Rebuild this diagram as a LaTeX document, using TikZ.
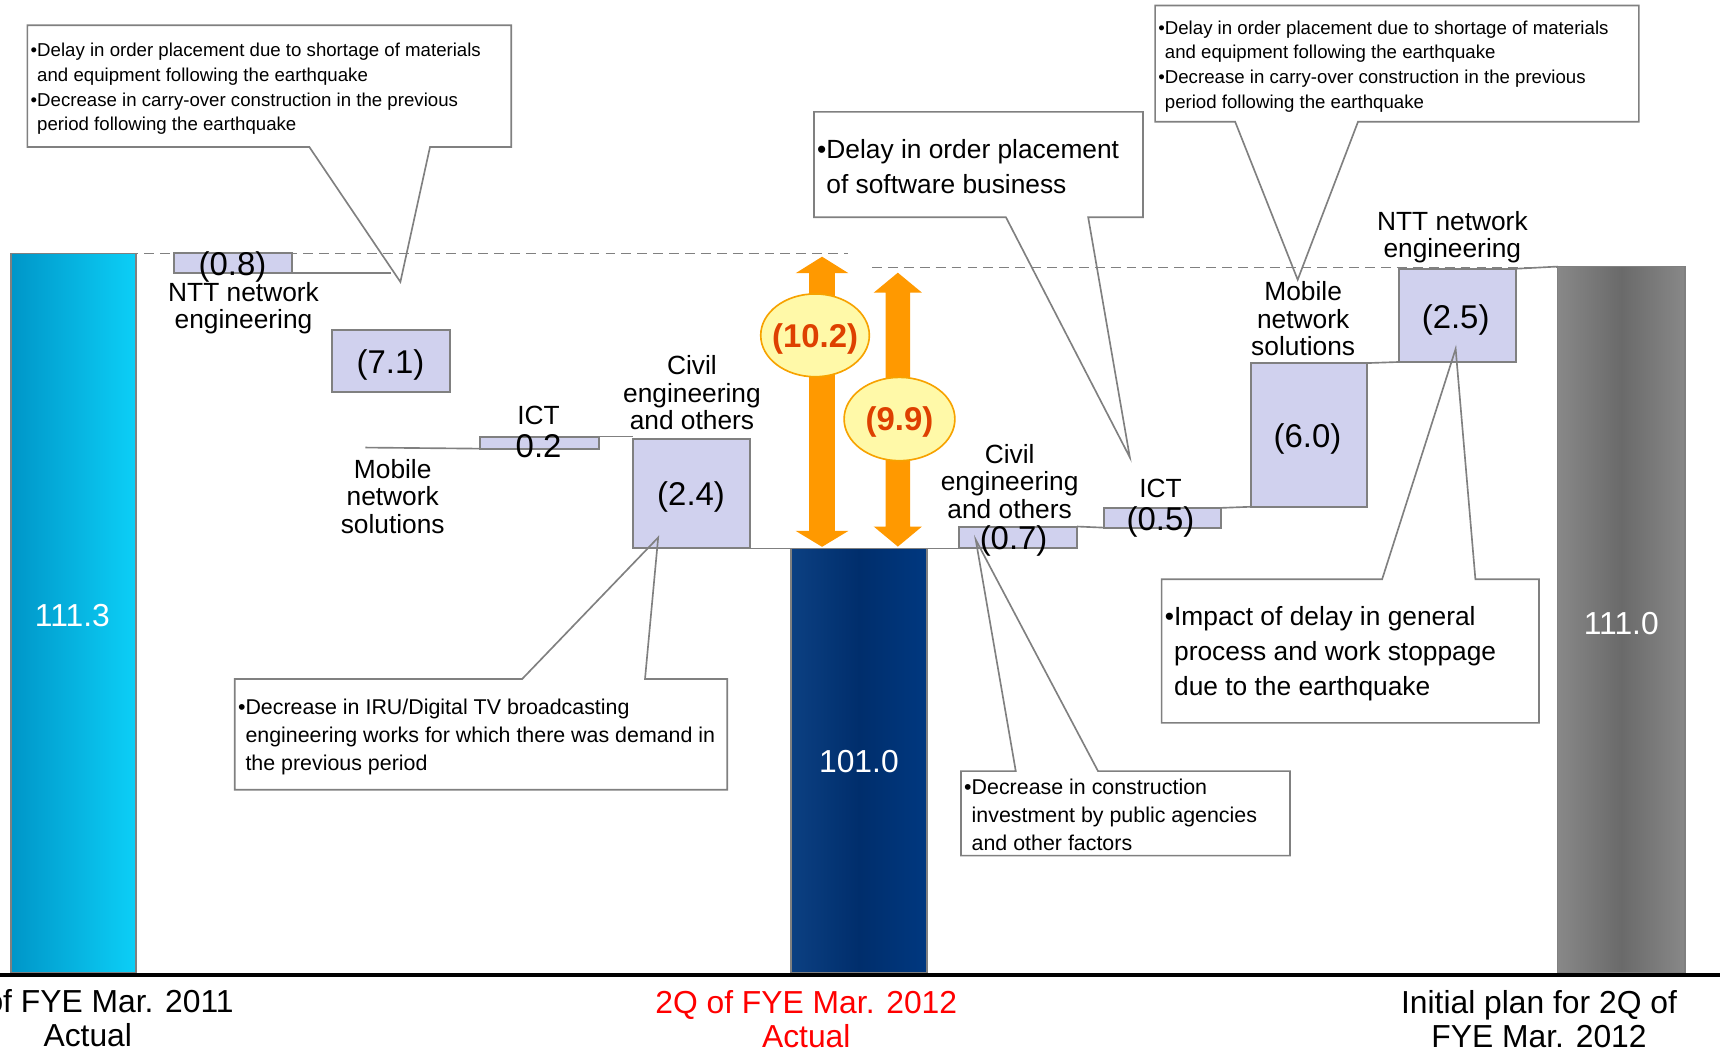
\documentclass[tikz,border=0pt]{standalone}
\usepackage{fontspec}
\setmainfont{Liberation Sans}
\usetikzlibrary{shapes.geometric}

\definecolor{edgegray}{RGB}{128,128,128}
\definecolor{stepfill}{RGB}{208,209,238}
\definecolor{arroworange}{RGB}{255,153,0}
\definecolor{bubblefill}{RGB}{255,249,168}
\definecolor{bubbleedge}{RGB}{247,162,0}
\definecolor{bubbletext}{RGB}{222,64,0}
\definecolor{cyanleft}{RGB}{0,150,200}
\definecolor{cyanright}{RGB}{12,207,247}
\definecolor{navyleft}{RGB}{12,64,130}
\definecolor{navymid}{RGB}{0,46,108}
\definecolor{navyright}{RGB}{0,56,128}
\definecolor{greyside}{RGB}{136,136,136}
\definecolor{greymid}{RGB}{106,106,106}

\begin{document}
\begin{tikzpicture}[x=1pt,y=-1pt,
  every node/.style={inner sep=0pt, outer sep=0pt},
  stepbox/.style={rectangle, draw=edgegray, line width=1.8pt, fill=stepfill},
  barbox/.style={rectangle, draw=edgegray, line width=1.2pt},
  link/.style={draw=edgegray, line width=1.5pt},
  refline/.style={draw=edgegray, line width=1.5pt, dash pattern=on 9pt off 5.5pt},
  catlabel/.style={font=\fontsize{24}{25}\selectfont, align=center, yshift=-2.5pt},
  valuelabel/.style={font=\fontsize{30}{32}\selectfont, yshift=-2.5pt},
  totallabel/.style={font=\fontsize{29}{31}\selectfont, text=white, yshift=-1.5pt},
  axislabel/.style={font=\fontsize{29}{31}\selectfont, align=center},
  notebox/.style={rectangle, fill=white, anchor=north west},
  noteedge/.style={draw=edgegray, line width=1.5pt, line join=miter},
  notetext/.style={align=left, anchor=west, xshift=3pt, yshift=-2.5pt},
  smallnote/.style={notetext, font=\fontsize{17}{22.5}\selectfont},
  midnote/.style={notetext, font=\fontsize{19.5}{25.8}\selectfont},
  bignote/.style={notetext, font=\fontsize{24}{32}\selectfont},
  bubble/.style={ellipse, draw=bubbleedge, line width=1.5pt, fill=bubblefill},
  bubbletxt/.style={font=\bfseries\fontsize{30}{32}\selectfont, text=bubbletext, yshift=-3pt},
  updown/.style={fill=arroworange},
]
\useasboundingbox (0,0) rectangle (1568,958);
\fill[white] (0,0) rectangle (1568,958);
\clip (0,0) rectangle (1568,958);

% reference levels
\draw[refline] (88,231) -- (773,231);
\draw[refline] (795,244) -- (1420,244);

% totals
\node[barbox, left color=cyanleft, right color=cyanright,
      minimum width=114pt, minimum height=656pt] (start) at (67,559) {};
\node[barbox, left color=navyleft, right color=navyright, middle color=navymid,
      minimum width=124pt, minimum height=387pt] (actual) at (783,693.5) {};
\node[barbox, left color=greyside, right color=greyside, middle color=greymid,
      minimum width=116pt, minimum height=644pt] (plan) at (1478,565) {};
\node[totallabel] at (66,560) {111.3};
\node[totallabel] at (783,693) {101.0};
\node[totallabel] at (1478,567) {111.0};

% step boxes
\node[stepbox, minimum width=107pt, minimum height=18pt]  (b08)  at (212.5,240) {};
\node[stepbox, minimum width=107pt, minimum height=56pt]  (b71)  at (356.5,329) {};
\node[stepbox, minimum width=108pt, minimum height=11pt]  (ict1) at (492,403.5) {};
\node[stepbox, minimum width=107pt, minimum height=100pt] (b24)  at (630.5,450) {};
\node[stepbox, minimum width=108pt, minimum height=20pt]  (b07)  at (928,490) {};
\node[stepbox, minimum width=107pt, minimum height=18pt]  (ict2) at (1059.5,472) {};
\node[stepbox, minimum width=106pt, minimum height=131pt] (b60)  at (1193,396.5) {};
\node[stepbox, minimum width=107pt, minimum height=85pt]  (b25)  at (1328.5,287.5) {};

% step connectors
\coordinate (mobL) at (333,408);
\draw[link] (b08.south east) -- (b08.south east -| b71.north);
\draw[link] (mobL) -- (ict1.south west);
\draw[link] (ict1.north east) -- (ict1.north east -| b24.west);
\draw[link] (b24.south east) -- (b07.south west);
\draw[link] (b07.north east) -- (ict2.south west);
\draw[link] (ict2.north east) -- (b60.south west);
\draw[link] (b60.north east) -- (b25.south west);
\draw[link] (b25.north east) -- (plan.north west);

% gap arrows
\coordinate (a1top) at (749.4,234);
\coordinate (a2top) at (818.5,248.6);
\fill[updown] (a1top) -- ++(24,15) -- ++(-12.3,0) -- ++(0,235) -- ++(12.3,0)
  -- ++(-24,14.5) -- ++(-24,-14.5) -- ++(12.3,0) -- ++(0,-235) -- ++(-12.3,0) -- cycle;
\fill[updown] (a2top) -- ++(22,18.2) -- ++(-10.8,0) -- ++(0,213.2) -- ++(10.8,0)
  -- ++(-22,18.3) -- ++(-22,-18.3) -- ++(10.8,0) -- ++(0,-213.2) -- ++(-10.8,0) -- cycle;

\node[bubble, minimum width=99pt, minimum height=75.5pt] (e1) at (743,305.7) {};
\node[bubbletxt] at (e1) {(10.2)};
\node[bubble, minimum width=101pt, minimum height=76pt] (e2) at (820,382) {};
\node[bubbletxt] at (e2) {(9.9)};

% values of the steps
\node[valuelabel] at (212,241) {(0.8)};
\node[valuelabel] at (356,330) {(7.1)};
\node[valuelabel] at (491,404) {0.2};
\node[valuelabel] at (630,451) {(2.4)};
\node[valuelabel] at (924,491) {(0.7)};
\node[valuelabel] at (1058,473) {(0.5)};
\node[valuelabel] at (1192,398) {(6.0)};
\node[valuelabel] at (1327,289) {(2.5)};

% segment names
\node[catlabel] (l1) at (222,278.5) {NTT network\\engineering};
\node[catlabel] (l2) at (358,450) {Mobile\\network\\solutions};
\node[catlabel] (l3) at (491,376) {ICT};
\node[catlabel] (l4) at (630.8,355.5) {Civil\\engineering\\and others};
\node[catlabel] (l5) at (920.4,436.5) {Civil\\engineering\\and others};
\node[catlabel] (l6) at (1058,443) {ICT};
\node[catlabel] (l7) at (1188,288) {Mobile\\network\\solutions};
\node[catlabel] (l8) at (1324,213.5) {NTT network\\engineering};

% notes
\node[notebox, minimum width=441pt, minimum height=111pt] (noteA) at (25,23) {};
\node[smallnote] at (noteA.west)
  {\textbullet Delay in order placement due to shortage of materials\\
   \phantom{\textbullet}and equipment following the earthquake\\
   \textbullet Decrease in carry-over construction in the previous\\
   \phantom{\textbullet}period following the earthquake};
\coordinate (tipA) at (365,257);
\draw[noteedge] (noteA.south west) -- (noteA.north west) -- (noteA.north east)
  -- (noteA.south east) -- (noteA.south -| 392,0) -- (tipA) -- (noteA.south -| 282,0) -- cycle;

\node[notebox, minimum width=300pt, minimum height=96pt] (noteB) at (742,102) {};
\node[bignote, yshift=1pt] at (noteB.west)
  {\textbullet Delay in order placement\\
   \phantom{\textbullet}of software business};
\coordinate (tipB) at (1030,417);
\draw[noteedge] (noteB.south west) -- (noteB.north west) -- (noteB.north east)
  -- (noteB.south east) -- (noteB.south -| 992,0) -- (tipB) -- (noteB.south -| 917,0) -- cycle;

\node[notebox, minimum width=441pt, minimum height=106pt] (noteC) at (1053,5) {};
\node[smallnote] at (noteC.west)
  {\textbullet Delay in order placement due to shortage of materials\\
   \phantom{\textbullet}and equipment following the earthquake\\
   \textbullet Decrease in carry-over construction in the previous\\
   \phantom{\textbullet}period following the earthquake};
\coordinate (tipC) at (1183,255);
\draw[noteedge] (noteC.south west) -- (noteC.north west) -- (noteC.north east)
  -- (noteC.south east) -- (noteC.south -| 1238,0) -- (tipC) -- (noteC.south -| 1126,0) -- cycle;

\node[notebox, minimum width=449pt, minimum height=101pt] (noteD) at (214,619) {};
\node[midnote] at (noteD.west)
  {\textbullet Decrease in IRU/Digital TV broadcasting\\
   \phantom{\textbullet}engineering works for which there was demand in\\
   \phantom{\textbullet}the previous period};
\coordinate (tipD) at (600,490);
\draw[noteedge] (noteD.north west) -- (noteD.south west) -- (noteD.south east)
  -- (noteD.north east) -- (noteD.north -| 588,0) -- (tipD) -- (noteD.north -| 476,0) -- cycle;

\node[notebox, minimum width=300pt, minimum height=77pt] (noteE) at (876,703) {};
\node[midnote, yshift=1pt] at (noteE.west)
  {\textbullet Decrease in construction\\
   \phantom{\textbullet}investment by public agencies\\
   \phantom{\textbullet}and other factors};
\coordinate (tipE) at (889.5,492);
\draw[noteedge] (noteE.north west) -- (noteE.south west) -- (noteE.south east)
  -- (noteE.north east) -- (noteE.north -| 1001,0) -- (tipE) -- (noteE.north -| 926,0) -- cycle;

\node[notebox, minimum width=344pt, minimum height=131pt] (noteF) at (1059,528) {};
\node[bignote] at (noteF.west)
  {\textbullet Impact of delay in general\\
   \phantom{\textbullet}process and work stoppage\\
   \phantom{\textbullet}due to the earthquake};
\coordinate (tipF) at (1327,318);
\draw[noteedge] (noteF.north west) -- (noteF.south west) -- (noteF.south east)
  -- (noteF.north east) -- (noteF.north -| 1345,0) -- (tipF) -- (noteF.north -| 1260,0) -- cycle;

% axis and period names
\coordinate (axisL) at (0,888.5);
\coordinate (axisR) at (1568,888.5);
\draw[line width=3.5pt] (axisL) -- (axisR);
\node[axislabel, anchor=east] (p1a) at (213,913) {of FYE Mar. 2011};
\node[axislabel] (p1b) at (80,944) {Actual};
\node[axislabel, text=red] (p2) at (735,929) {2Q of FYE Mar. 2012\\Actual};
\node[axislabel] (p3) at (1403,929) {Initial plan for 2Q of\\FYE Mar. 2012};
\end{tikzpicture}
\end{document}
